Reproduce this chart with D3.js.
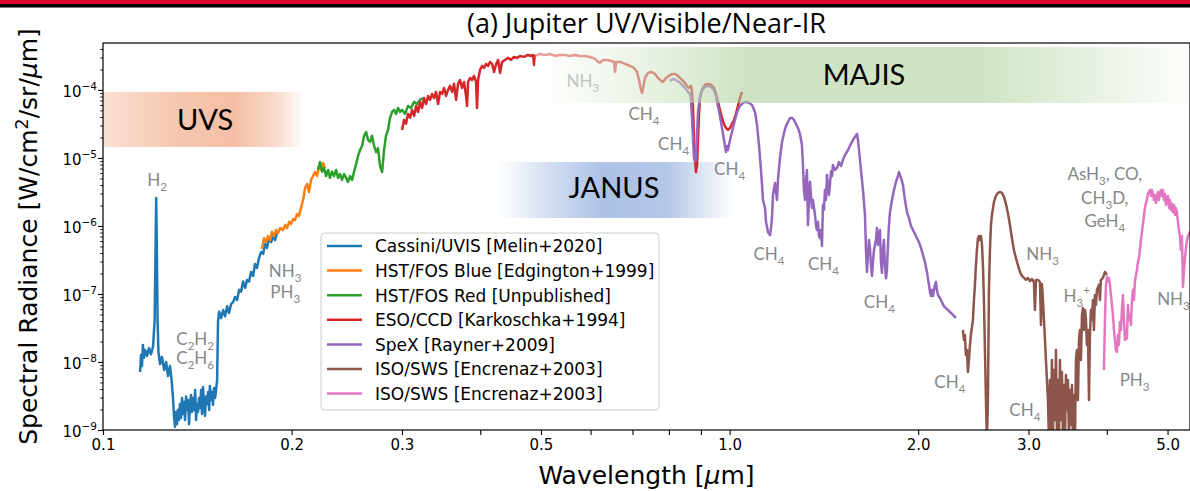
<!DOCTYPE html>
<html>
<head>
<meta charset="utf-8">
<script src="https://cdn.jsdelivr.net/npm/d3@7"></script>
<style>
  html, body { margin: 0; padding: 0; background: #fff; }
  svg { display: block; }
</style>
</head>
<body>
<svg id="chart" width="1190" height="491"></svg>
<script>
// ---------- Spectral data: wavelength [µm] and radiance [W/cm^2/sr/µm] ----------
const cassiniWave = [0.1146,0.1150,0.1154,0.1158,0.1163,0.1167,0.1176,0.1184,0.1193,0.1202,0.1209,0.1213,0.1216,0.1219,0.1222,0.1226,0.1233,0.1242,0.1252,0.1261,0.1270,0.1279,0.1286,0.1294,0.1298,0.1303,0.1308,0.1313,0.1317,0.1322,0.1327,0.1332,0.1337,0.1342,0.1347,0.1352,0.1357,0.1362,0.1367,0.1372,0.1377,0.1382,0.1387,0.1392,0.1397,0.1403,0.1408,0.1413,0.1418,0.1423,0.1428,0.1434,0.1439,0.1444,0.1449,0.1455,0.1460,0.1466,0.1471,0.1477,0.1481,0.1488,0.1493,0.1498,0.1504,0.1510,0.1515,0.1521,0.1526,0.1532,0.1543,0.1555,0.1566,0.1578,0.1589,0.1601,0.1613,0.1625,0.1637,0.1649,0.1661,0.1673,0.1686,0.1698,0.1710,0.1723,0.1736,0.1748,0.1761,0.1774,0.1788,0.1801,0.1814,0.1827,0.1841,0.1855,0.1868,0.1882,0.1896];
const cassiniRad = [7.13e-9,1.27e-8,8.7e-9,1.78e-8,1.15e-8,1.5e-8,1.23e-8,1.6e-8,1.3e-8,1.7e-8,4.15e-8,4.44e-7,2.58e-6,4.44e-7,4.15e-8,1.4e-8,9.3e-9,1.19e-8,7.62e-9,1.0e-8,6.2e-9,8.7e-9,5.8e-9,2.76e-9,1.61e-9,1.11e-9,1.84e-9,1.22e-9,1.97e-9,1.4e-9,2.41e-9,1.5e-9,2.96e-9,1.72e-9,2.58e-9,1.4e-9,3.1e-9,1.97e-9,2.76e-9,1.22e-9,2.41e-9,3.27e-9,1.84e-9,2.96e-9,1.97e-9,3.87e-9,1.4e-9,2.41e-9,1.84e-9,2.96e-9,2.1e-9,3.87e-9,1.72e-9,4.29e-9,2.58e-9,1.61e-9,3.1e-9,2.41e-9,3.62e-9,1.97e-9,4.45e-9,2.76e-9,3.62e-9,2.33e-9,4.15e-9,2.96e-9,3.87e-9,5.43e-9,3.9e-8,5.5e-8,4.4e-8,5.82e-8,4.7e-8,6.6e-8,5.26e-8,7.1e-8,7.6e-8,9.04e-8,8.16e-8,1.15e-7,1.08e-7,1.53e-7,1.23e-7,1.61e-7,1.53e-7,2.11e-7,1.84e-7,2.76e-7,2.41e-7,3.38e-7,4.15e-7,3.87e-7,5.43e-7,4.75e-7,6.6e-7,5.8e-7,7.1e-7,6.2e-7,7.9e-7];

const fosBlueWave = [0.1794,0.1807,0.1821,0.1834,0.1848,0.1861,0.1875,0.1889,0.1903,0.1917,0.1938,0.1953,0.1967,0.1982,0.1996,0.2011,0.2026,0.2041,0.2055,0.2070,0.2086,0.2101,0.2117,0.2132,0.2148,0.2164,0.2180,0.2196,0.2212,0.2228,0.2245,0.2261];
const fosBlueRad = [4.6e-7,6.6e-7,5.8e-7,7.1e-7,6.2e-7,8.2e-7,7.1e-7,8.73e-7,7.9e-7,9.3e-7,8.73e-7,1.035e-6,9.3e-7,1.15e-6,1.07e-6,1.26e-6,1.22e-6,1.5e-6,1.4e-6,1.84e-6,2.41e-6,3.6e-6,4.15e-6,3.15e-6,4.75e-6,5.43e-6,6.2e-6,5.43e-6,7.62e-6,6.67e-6,8.44e-6,7.1e-6];

const fosRedWave = [0.2204,0.2220,0.2237,0.2253,0.2270,0.2287,0.2303,0.2320,0.2337,0.2355,0.2372,0.2390,0.2407,0.2425,0.2443,0.2461,0.2479,0.2498,0.2516,0.2535,0.2553,0.2572,0.2591,0.2610,0.2630,0.2649,0.2668,0.2688,0.2708,0.2728,0.2748,0.2768,0.2789,0.2809,0.2829,0.2850,0.2872,0.2893,0.2914,0.2935,0.2957,0.2979,0.3001,0.3034,0.3068,0.3102,0.3137,0.3171,0.3206,0.3242];
const fosRedRad = [6.67e-6,8.7e-6,6.3e-6,7.1e-6,5.4e-6,6.67e-6,5.1e-6,6.3e-6,5.4e-6,6.67e-6,5.1e-6,5.8e-6,4.75e-6,5.8e-6,5.1e-6,4.45e-6,5.4e-6,4.75e-6,6.3e-6,8.1e-6,1.07e-5,1.31e-5,1.5e-5,2.11e-5,2.41e-5,1.84e-5,1.72e-5,2.11e-5,1.5e-5,1.22e-5,1.4e-5,7.6e-6,6.2e-6,1.31e-5,2.11e-5,2.58e-5,3.9e-5,4.75e-5,5.08e-5,4.45e-5,5.43e-5,4.75e-5,5.08e-5,4.45e-5,5.82e-5,5.43e-5,6.67e-5,6.2e-5,7.13e-5,7.6e-5];

const esoWave = [0.3001,0.3023,0.3045,0.3068,0.3091,0.3114,0.3137,0.3160,0.3183,0.3206,0.3230,0.3254,0.3278,0.3302,0.3326,0.3351,0.3375,0.3400,0.3426,0.3451,0.3477,0.3502,0.3528,0.3554,0.3580,0.3607,0.3633,0.3660,0.3687,0.3714,0.3741,0.3769,0.3797,0.3811,0.3825,0.3853,0.3882,0.3910,0.3939,0.3953,0.3968,0.3997,0.4026,0.4056,0.4086,0.4116,0.4147,0.4178,0.4209,0.4240,0.4271,0.4302,0.4334,0.4381,0.4430,0.4479,0.4528,0.4579,0.4630,0.4698,0.4768,0.4821,0.4856,0.4874,0.4891,0.4983,0.5075,0.5169,0.5264,0.5363,0.5462,0.5563,0.5667,0.5772,0.5879,0.5988,0.6099,0.6167,0.6212,0.6281,0.6374,0.6468,0.6540,0.6564,0.6588,0.6686,0.6810,0.6936,0.7039,0.7117,0.7170,0.7222,0.7249,0.7276,0.7329,0.7410,0.7492,0.7603,0.7688,0.7773,0.7830,0.7917,0.8005,0.8093,0.8183,0.8273,0.8365,0.8458,0.8552,0.8615,0.8679,0.8711,0.8743,0.8775,0.8807,0.8839,0.8872,0.8905,0.8937,0.8970,0.9036,0.9137,0.9238,0.9340,0.9444,0.9513,0.9583,0.9654,0.9725,0.9797,0.9869,0.9942,1.0015,1.0088,1.0163,1.0237,1.0313,1.0390,1.0466];
const esoRad = [2.58e-5,3.62e-5,3.2e-5,4.45e-5,3.9e-5,5.08e-5,4.15e-5,5.82e-5,4.75e-5,6.67e-5,5.43e-5,7.6e-5,6.2e-5,8.16e-5,7.13e-5,8.73e-5,7.6e-5,9.35e-5,6.2e-5,9.35e-5,8.73e-5,1.07e-4,8.16e-5,1.0e-4,1.15e-4,9.35e-5,1.23e-4,7.13e-5,1.23e-4,1.4e-4,1.07e-4,1.31e-4,8.16e-5,5.82e-5,1.31e-4,1.5e-4,1.4e-4,1.61e-4,1.31e-4,5.43e-5,1.4e-4,1.97e-4,2.25e-4,2.11e-4,2.41e-4,2.25e-4,2.58e-4,2.41e-4,1.84e-4,2.41e-4,2.76e-4,1.78e-4,2.58e-4,2.76e-4,2.96e-4,2.76e-4,3.06e-4,2.96e-4,3.16e-4,3.06e-4,3.27e-4,3.16e-4,3.27e-4,2.33e-4,3.16e-4,3.38e-4,3.27e-4,3.38e-4,3.16e-4,3.27e-4,3.27e-4,3.16e-4,3.27e-4,3.16e-4,3.16e-4,3.06e-4,2.86e-4,2.58e-4,2.49e-4,2.76e-4,2.76e-4,2.67e-4,2.58e-4,1.84e-4,2.58e-4,2.58e-4,2.41e-4,2.25e-4,2.11e-4,1.84e-4,1.4e-4,1.0e-4,9.04e-5,1.07e-4,1.5e-4,1.78e-4,1.84e-4,1.72e-4,1.5e-4,1.36e-4,1.31e-4,1.5e-4,1.61e-4,1.72e-4,1.72e-4,1.61e-4,1.45e-4,1.31e-4,1.15e-4,1.07e-4,1.15e-4,9.35e-5,5.43e-5,1.84e-5,9.35e-6,6.2e-6,7.9e-6,1.84e-5,4.29e-5,7.6e-5,1.0e-4,1.19e-4,1.23e-4,1.19e-4,1.07e-4,8.73e-5,6.67e-5,5.08e-5,3.87e-5,3.16e-5,2.76e-5,2.58e-5,2.76e-5,3.16e-5,3.62e-5,4.45e-5,5.82e-5,7.6e-5,9.35e-5];

const spexWave = [0.8034,0.8123,0.8213,0.8304,0.8396,0.8489,0.8584,0.8647,0.8679,0.8711,0.8743,0.8775,0.8807,0.8839,0.8872,0.8905,0.8970,0.9036,0.9137,0.9238,0.9340,0.9444,0.9513,0.9583,0.9654,0.9725,0.9797,0.9869,0.9906,0.9942,1.0015,1.0088,1.0163,1.0237,1.0313,1.0390,1.0505,1.0622,1.0739,1.0858,1.0978,1.1060,1.1141,1.1223,1.1265,1.1306,1.1390,1.1432,1.1516,1.1601,1.1643,1.1686,1.1729,1.1816,1.1859,1.1903,1.1946,1.2035,1.2124,1.2213,1.2303,1.2393,1.2485,1.2577,1.2669,1.2762,1.2856,1.2952,1.3046,1.3095,1.3143,1.3192,1.3241,1.3289,1.3338,1.3387,1.3436,1.3486,1.3535,1.3585,1.3686,1.3736,1.3786,1.3837,1.3888,1.3939,1.3990,1.4042,1.4093,1.4145,1.4197,1.4250,1.4302,1.4355,1.4407,1.4460,1.4514,1.4568,1.4621,1.4730,1.4838,1.4947,1.5058,1.5168,1.5280,1.5393,1.5507,1.5621,1.5736,1.5853,1.5970,1.6029,1.6088,1.6206,1.6326,1.6447,1.6508,1.6568,1.6629,1.6691,1.6752,1.6813,1.6875,1.6937,1.6999,1.7125,1.7188,1.7251,1.7378,1.7442,1.7506,1.7571,1.7635,1.7700,1.7765,1.7831,1.7897,1.7963,1.8029,1.8162,1.8295,1.8430,1.8566,1.8635,1.8703,1.8772,1.8911,1.9050,1.9191,1.9333,1.9475,1.9618,1.9763,1.9909,2.0056,2.0204,2.0352,2.0502,2.0653,2.0806,2.0882,2.0960,2.1036,2.1113,2.1269,2.1347,2.1426,2.1505,2.1663,2.1823,2.1984,2.2147,2.2310,2.2474,2.2640,2.2807,2.2975];
const spexRad = [1.36e-4,1.45e-4,1.4e-4,1.31e-4,1.19e-4,1.07e-4,9.35e-5,8.73e-5,7.13e-5,3.87e-5,1.84e-5,1.0e-5,8.7e-6,1.0e-5,2.18e-5,4.75e-5,8.16e-5,1.0e-4,1.11e-4,1.15e-4,1.11e-4,1.0e-4,8.16e-5,5.82e-5,4.15e-5,2.76e-5,1.84e-5,1.22e-5,1.5e-5,1.31e-5,1.84e-5,2.41e-5,3.16e-5,4.15e-5,5.08e-5,5.82e-5,6.44e-5,6.67e-5,6.44e-5,6.02e-5,4.75e-5,3.06e-5,1.55e-5,6.67e-6,4.01e-6,2.41e-6,1.84e-6,1.15e-6,8.16e-7,7.37e-7,9.3e-7,1.31e-6,2.86e-6,4.29e-6,3.2e-6,2.41e-6,4.75e-6,1.0e-5,1.7e-5,2.33e-5,2.96e-5,3.38e-5,3.87e-5,3.87e-5,3.62e-5,3.16e-5,2.76e-5,2.25e-5,1.55e-5,7.9e-6,3.38e-6,2.41e-6,4.75e-6,6.67e-6,1.035e-6,2.41e-6,4.45e-6,2.86e-6,1.84e-6,2.41e-6,1.45e-6,1.035e-6,8.73e-7,1.15e-6,7.1e-7,6.6e-7,8.73e-7,5.08e-7,2.04e-6,1.72e-6,3.38e-6,2.41e-6,5.62e-6,4.01e-6,2.86e-6,4.01e-6,6.3e-6,5.4e-6,7.9e-6,6.67e-6,7.1e-6,8.7e-6,7.6e-6,9.35e-6,1.11e-5,1.22e-5,1.4e-5,1.61e-5,1.84e-5,2.04e-5,2.25e-5,1.84e-5,1.31e-5,6.67e-6,3.38e-6,1.45e-6,4.44e-7,2.11e-7,3.75e-7,6.2e-7,4.75e-7,2.67e-7,1.84e-7,2.96e-7,4.44e-7,6.2e-7,9.3e-7,5.26e-7,8.73e-7,2.96e-7,2.04e-7,4.44e-7,6.2e-7,2.67e-7,1.7e-7,2.25e-7,5.26e-7,1.035e-6,1.6e-6,2.41e-6,3.38e-6,4.45e-6,5.4e-6,6.2e-6,5.62e-6,5.1e-6,4.01e-6,2.41e-6,1.6e-6,1.3e-6,1.0e-6,8.73e-7,7.6e-7,6.6e-7,5.8e-7,4.75e-7,3.75e-7,2.96e-7,2.11e-7,1.36e-7,1.08e-7,9.35e-8,1.15e-7,9.35e-8,1.36e-7,1.5e-7,1.15e-7,9.66e-8,8.7e-8,7.6e-8,6.6e-8,6.2e-8,5.82e-8,5.43e-8,5.08e-8,4.75e-8,4.45e-8];

const isoLongWave = [2.3573,2.366,2.3747,2.383,2.3922,2.4010,2.410,2.4188,2.427,2.4456,2.4546,2.4636,2.4727,2.4818,2.4909,2.5001,2.5093,2.5185,2.5278,2.5371,2.5464,2.5558,2.5652,2.5746,2.5841,2.5936,2.6032,2.613,2.6224,2.642,2.661,2.6809,2.7007,2.7206,2.741,2.761,2.781,2.8018,2.8224,2.843,2.864,2.885,2.9066,2.9281,2.950,2.971,2.993,3.0155,3.038,3.060,3.0714,3.083,3.106,3.1284,3.1399,3.1515,3.1631,3.175,3.1864,3.198,3.2100,3.2218,3.234,3.2456,3.257,3.269,3.2815,3.293,3.3057,3.318,3.3301,3.342,3.355,3.3670,3.380,3.3918,3.404,3.417,3.4294,3.442,3.4547,3.467,3.480,3.4930,3.506,3.519,3.5317,3.545,3.5578,3.571,3.5840,3.597,3.611,3.6238,3.637,3.651,3.6639,3.677,3.6910,3.705,3.7182,3.732,3.746,3.7594,3.773,3.787,3.8010,3.815,3.8291,3.843,3.8573,3.886,3.9001,3.914,3.9433,3.9724,4.0017];
const isoLongRad = [2.96e-8,2.11e-8,2.49e-8,1.27e-8,1.5e-8,7.13e-9,1.07e-8,1.78e-8,2.49e-8,4.15e-8,8.16e-8,1.36e-7,2.67e-7,4.44e-7,6.6e-7,7.1e-7,6.2e-7,7.1e-7,5.4e-7,2.67e-7,8.16e-8,1.5e-8,2.76e-9,7e-10,2.76e-9,1.15e-7,4.44e-7,1.035e-6,1.45e-6,2.25e-6,2.76e-6,3.06e-6,3.16e-6,3.06e-6,2.67e-6,2.11e-6,1.55e-6,1.035e-6,6.6e-7,4.44e-7,3.38e-7,2.67e-7,2.11e-7,1.84e-7,1.72e-7,1.61e-7,1.72e-7,1.55e-7,1.66e-7,1.5e-7,5.82e-8,1.61e-7,1.61e-7,1.5e-7,3.5e-8,1.4e-7,8.16e-8,4.15e-8,2.2e-8,1.07e-8,5.43e-9,2.76e-9,7e-10,5.43e-9,7e-10,1.07e-8,7e-10,7.6e-9,1.4e-9,1.5e-8,7e-10,5.43e-9,7e-10,1.07e-8,1.4e-9,7.13e-9,7e-10,4.59e-9,7e-10,6.44e-9,1.97e-9,5.43e-9,7e-10,3.87e-9,1.19e-9,4.59e-9,7e-10,3.27e-9,7e-10,1.07e-8,1.5e-8,2.76e-9,2.11e-8,2.96e-8,1.07e-8,4.91e-8,6.2e-8,2.96e-8,5.82e-8,4.15e-8,1.78e-8,2.96e-8,2.76e-9,2.49e-8,5.82e-8,4.15e-8,8.16e-8,2.96e-8,9.66e-8,6.89e-8,1.15e-7,1.36e-7,8.16e-8,1.61e-7,1.72e-7,2.11e-7,1.9e-7];

const isoShortWave = [3.958,3.9724,3.987,4.0017,4.016,4.031,4.0460,4.061,4.076,4.0909,4.106,4.1211,4.136,4.1515,4.1668,4.182,4.1975,4.213,4.228,4.2441,4.260,4.2754,4.291,4.3069,4.3228,4.339,4.3547,4.371,4.3868,4.4030,4.419,4.4355,4.452,4.4682,4.485,4.501,4.5177,4.534,4.551,4.5677,4.585,4.6014,4.618,4.6353,4.652,4.670,4.6867,4.704,4.721,4.7386,4.756,4.7736,4.791,4.8088,4.827,4.844,4.8621,4.880,4.898,4.9159,4.934,4.9522,4.970,4.9887,5.007,5.026,5.0440,5.062,5.081,5.0999,5.119,5.1375,5.156,5.1754,5.195,5.214,5.2327,5.252,5.2723,5.2917,5.311,5.3308,5.350,5.370,5.3898,5.4296,5.49];
const isoShortRad = [7.62e-9,4.15e-8,1.36e-7,1.78e-7,1.53e-7,1.72e-7,1.36e-7,9.66e-8,6.89e-8,4.91e-8,2.96e-8,2.11e-8,1.5e-8,1.4e-8,2.49e-8,1.78e-8,3.87e-8,2.96e-8,5.82e-8,9.66e-8,4.15e-8,2.11e-8,2.96e-8,2.2e-8,6.89e-8,4.15e-8,4.91e-8,3.5e-8,8.16e-8,1.15e-7,8.16e-8,1.53e-7,1.9e-7,2.25e-7,2.96e-7,3.38e-7,4.44e-7,6.2e-7,8.2e-7,1.07e-6,1.4e-6,1.84e-6,2.18e-6,2.41e-6,2.96e-6,3.16e-6,3.38e-6,2.76e-6,3.38e-6,2.96e-6,2.41e-6,2.86e-6,2.18e-6,2.76e-6,3.16e-6,2.41e-6,2.96e-6,3.38e-6,2.76e-6,3.38e-6,2.41e-6,2.96e-6,2.04e-6,2.58e-6,2.76e-6,1.84e-6,2.41e-6,1.72e-6,2.11e-6,1.6e-6,2.04e-6,1.45e-6,1.84e-6,1.6e-6,1.15e-6,8.73e-7,7.1e-7,4.44e-7,7.1e-7,1.27e-7,2.25e-7,3.38e-7,4.75e-7,6.2e-7,7.1e-7,8.2e-7,9.3e-7];

const seriesNames = ["Cassini/UVIS [Melin+2020]", "HST/FOS Blue [Edgington+1999]", "HST/FOS Red [Unpublished]", "ESO/CCD [Karkoschka+1994]", "SpeX [Rayner+2009]", "ISO/SWS [Encrenaz+2003]", "ISO/SWS [Encrenaz+2003]"];
const seriesColors = ["#1f77b4", "#ff7f0e", "#2ca02c", "#d62728", "#9467bd", "#8c564b", "#e377c2"];

// ---------- Axis ticks ----------
const xTickValues = [0.1, 0.2, 0.3, 0.4, 0.5, 0.6, 0.7, 0.8, 0.9, 1, 2, 3, 4, 5];
const xTickLabels = ["0.1", "0.2", "0.3", "", "0.5", "", "", "", "", "1.0", "2.0", "3.0", "", "5.0"];
const yMajorTicks = [1e-9, 1e-8, 1e-7, 1e-6, 1e-5, 1e-4];
const yTickExponents = ["−9", "−8", "−7", "−6", "−5", "−4"];

// ---------- Instrument coverage bands ----------
const bandNames = ["UVS", "JANUS", "MAJIS"];
const bandWave = [[0.1, 0.21], [0.427, 1.013], [0.49, 5.43]];
const bandRad = [[1.45e-5, 9.35e-5], [1.31e-6, 8.7e-6], [6.44e-5, 4.28e-4]];
const bandLabelWave = [0.1455, 0.654, 1.639];
const bandLabelRad = [2.6e-5, 2.55e-6, 1.2e-4];

// ---------- Absorption/emission annotations (centre wavelength, baseline radiance) ----------
const labelText = ["H_2", "C_2H_2", "C_2H_6", "NH_3", "PH_3", "NH_3", "CH_4", "CH_4", "CH_4", "CH_4", "CH_4", "CH_4", "CH_4", "CH_4", "NH_3", "H_3^+", "AsH_3, CO,", "CH_3D,", "GeH_4", "PH_3", "NH_3"];
const labelWave = [0.122, 0.1403, 0.1403, 0.1953, 0.1953, 0.583, 0.730, 0.814, 1.0, 1.156, 1.412, 1.734, 2.247, 2.96, 3.16, 3.58, 3.97, 3.97, 3.97, 4.43, 5.11];
const labelRad = [3.87e-6, 1.78e-8, 9.35e-9, 1.78e-7, 8.73e-8, 1.11e-4, 3.62e-5, 1.31e-5, 5.62e-6, 3.16e-7, 2.25e-7, 6.2e-8, 4.15e-9, 1.61e-9, 3.16e-7, 7.7e-8, 4.75e-6, 2.11e-6, 9.66e-7, 4.4e-9, 6.9e-8];

// ---------- Layout ----------
const svg = d3.select("#chart");
const plot = { left: 103, right: 1190, top: 43, bottom: 430 };
const x = d3.scaleLog().domain([0.1, 5.43]).range([plot.left, plot.right]);
const y = d3.scaleLog().domain([1e-9, 4.9e-4]).range([plot.bottom, plot.top]);
const tickFont = "'DejaVu Sans', sans-serif";

// top banner stripes
svg.append("rect").attr("x", 0).attr("y", 0).attr("width", 1190).attr("height", 4).attr("fill", "#e0072d");
svg.append("rect").attr("x", 0).attr("y", 4).attr("width", 1190).attr("height", 3.5).attr("fill", "#000");

const defs = svg.append("defs");
defs.append("clipPath").attr("id", "plot-clip")
  .append("rect")
  .attr("x", plot.left).attr("y", plot.top)
  .attr("width", plot.right - plot.left).attr("height", plot.bottom - plot.top);

// Band shading: each band is a translucent veil whose colour runs white -> tint -> white.
// [offset, mix of tint (0 = white, 1 = full tint)]
const bandTint = [[238, 150, 105], [120, 155, 215], [168, 206, 148]];
const bandOpacity = [0.66, 0.62, 0.55];
const bandOnTop = [false, false, true];
const bandStops = [
  [[0, 0.45], [0.35, 0.8], [0.65, 0.92], [0.85, 0.55], [1, 0]],
  [[0, 0], [0.2, 0.5], [0.45, 1], [0.72, 0.9], [1, 0]],
  [[0, 0], [0.1, 0.25], [0.24, 0.7], [0.32, 1], [0.68, 1], [0.85, 0.5], [1, 0.05]]
];
bandNames.forEach((name, i) => {
  const g = defs.append("linearGradient").attr("id", "band-grad-" + i)
    .attr("x1", "0%").attr("x2", "100%").attr("y1", "0%").attr("y2", "0%");
  bandStops[i].forEach(s => {
    const c = bandTint[i].map(v => Math.round(255 - (255 - v) * s[1]));
    g.append("stop").attr("offset", (s[0] * 100) + "%")
      .attr("stop-color", `rgb(${c[0]},${c[1]},${c[2]})`);
  });
});

function drawBands(group, onTop) {
  bandNames.forEach((name, i) => {
    if (bandOnTop[i] !== onTop) return;
    const x0 = x(bandWave[i][0]), x1 = x(bandWave[i][1]);
    const y0 = y(bandRad[i][1]), y1 = y(bandRad[i][0]);
    group.append("rect")
      .attr("x", x0).attr("y", y0).attr("width", x1 - x0).attr("height", y1 - y0)
      .attr("fill", "url(#band-grad-" + i + ")")
      .attr("fill-opacity", bandOpacity[i]);
  });
}

// UVS and JANUS sit behind the spectra
drawBands(svg.append("g").attr("clip-path", "url(#plot-clip)"), false);

// ---------- Spectra ----------
const waves = [cassiniWave, fosBlueWave, fosRedWave, esoWave, spexWave, isoLongWave, isoShortWave];
const rads = [cassiniRad, fosBlueRad, fosRedRad, esoRad, spexRad, isoLongRad, isoShortRad];
const line = d3.line().x(d => x(d[0])).y(d => y(d[1]));

const linesG = svg.append("g").attr("clip-path", "url(#plot-clip)");
waves.forEach((w, i) => {
  const pts = w.map((v, j) => [v, rads[i][j]]);
  linesG.append("path").datum(pts)
    .attr("d", line)
    .attr("fill", "none")
    .attr("stroke", seriesColors[i])
    .attr("stroke-width", 2.5)
    .attr("stroke-linejoin", "round");
});

// ---------- Molecule annotations ----------
function richText(sel, str, size) {
  // "_c" gives a subscript character, "^c" a superscript character
  let i = 0;
  let shift = 0;
  while (i < str.length) {
    const ch = str[i];
    if ((ch === "_" || ch === "^") && i + 1 < str.length) {
      const target = ch === "_" ? size * 0.3 : -size * 0.45;
      sel.append("tspan").attr("dy", target - shift).attr("font-size", size * 0.68).text(str[i + 1]);
      shift = target;
      i += 2;
    } else {
      let j = i;
      while (j < str.length && str[j] !== "_" && str[j] !== "^") j++;
      sel.append("tspan").attr("dy", -shift).attr("font-size", size).text(str.slice(i, j));
      shift = 0;
      i = j;
    }
  }
}

const labelG = svg.append("g");
labelText.forEach((t, i) => {
  const txt = labelG.append("text")
    .attr("x", x(labelWave[i])).attr("y", y(labelRad[i]))
    .attr("text-anchor", "middle")
    .attr("font-family", "Lato, 'Open Sans', sans-serif")
    .attr("font-size", 17)
    .attr("fill", "#878787");
  richText(txt, t, 17);
});

// MAJIS veil lies over the spectra and their labels
drawBands(svg.append("g").attr("clip-path", "url(#plot-clip)"), true);

bandNames.forEach((name, i) => {
  svg.append("text")
    .attr("x", x(bandLabelWave[i])).attr("y", y(bandLabelRad[i]))
    .attr("text-anchor", "middle")
    .attr("font-family", "Lato, 'Open Sans', sans-serif")
    .attr("font-size", 29)
    .attr("fill", "#000")
    .text(name);
});

// ---------- Axes ----------
const xAxis = d3.axisBottom(x).tickValues(xTickValues)
  .tickFormat((d, i) => xTickLabels[i]).tickSize(5).tickSizeOuter(0).tickPadding(4);
const xg = svg.append("g").attr("transform", `translate(0,${plot.bottom})`).call(xAxis);
xg.select(".domain").remove();
xg.selectAll("text").attr("font-family", tickFont).attr("font-size", 15).attr("fill", "#000");
xg.selectAll("line").attr("stroke", "#000").attr("stroke-width", 1.1);

const yMinor = [];
for (let e = -9; e <= -4; e++) {
  for (let k = 2; k <= 9; k++) {
    const v = k * Math.pow(10, e);
    if (v < y.domain()[1]) yMinor.push(v);
  }
}
const yMinorAxis = d3.axisLeft(y).tickValues(yMinor).tickFormat("").tickSize(2.8).tickSizeOuter(0);
const ygm = svg.append("g").attr("transform", `translate(${plot.left},0)`).call(yMinorAxis);
ygm.select(".domain").remove();
ygm.selectAll("line").attr("stroke", "#000").attr("stroke-width", 0.9);

const yAxis = d3.axisLeft(y).tickValues(yMajorTicks).tickFormat("").tickSize(5).tickSizeOuter(0);
const yg = svg.append("g").attr("transform", `translate(${plot.left},0)`).call(yAxis);
yg.select(".domain").remove();
yg.selectAll("line").attr("stroke", "#000").attr("stroke-width", 1.1);
yMajorTicks.forEach((v, i) => {
  const t = svg.append("text")
    .attr("x", plot.left - 6).attr("y", y(v) + 7)
    .attr("text-anchor", "end")
    .attr("font-family", tickFont).attr("fill", "#000");
  t.append("tspan").attr("font-size", 15).text("10");
  t.append("tspan").attr("font-size", 10.5).attr("dy", -7).text(yTickExponents[i]);
});

// axes frame
svg.append("rect")
  .attr("x", plot.left).attr("y", plot.top)
  .attr("width", plot.right - plot.left).attr("height", plot.bottom - plot.top)
  .attr("fill", "none").attr("stroke", "#000").attr("stroke-width", 1.2);

// axis titles
const xl = svg.append("text")
  .attr("x", (plot.left + plot.right) / 2).attr("y", 484)
  .attr("text-anchor", "middle")
  .attr("font-family", tickFont).attr("font-size", 25).attr("fill", "#000");
xl.append("tspan").text("Wavelength [");
xl.append("tspan").attr("font-style", "italic").text("μ");
xl.append("tspan").text("m]");

const yl = svg.append("text")
  .attr("transform", `translate(37,${(plot.top + plot.bottom) / 2}) rotate(-90)`)
  .attr("text-anchor", "middle")
  .attr("font-family", tickFont).attr("font-size", 25).attr("fill", "#000");
yl.append("tspan").text("Spectral Radiance [W/cm");
yl.append("tspan").attr("font-size", 17.5).attr("dy", -9).text("2");
yl.append("tspan").attr("dy", 9).text("/sr/");
yl.append("tspan").attr("font-style", "italic").text("μ");
yl.append("tspan").text("m]");

// chart title
svg.append("text")
  .attr("x", (plot.left + plot.right) / 2).attr("y", 33)
  .attr("text-anchor", "middle")
  .attr("font-family", "'Open Sans', 'Noto Sans', sans-serif")
  .attr("font-size", 27).attr("fill", "#000")
  .text("(a) Jupiter UV/Visible/Near-IR");

// ---------- Legend ----------
const legend = svg.append("g").attr("transform", "translate(321,233)");
legend.append("rect")
  .attr("width", 338).attr("height", 177).attr("rx", 4)
  .attr("fill", "#fff").attr("fill-opacity", 0.85)
  .attr("stroke", "#cccccc").attr("stroke-width", 1);
seriesNames.forEach((name, i) => {
  const cy = 13 + i * 24.6;
  legend.append("line")
    .attr("x1", 6).attr("x2", 41).attr("y1", cy).attr("y2", cy)
    .attr("stroke", seriesColors[i]).attr("stroke-width", 2.5);
  legend.append("text")
    .attr("x", 54).attr("y", cy + 6.3)
    .attr("font-family", tickFont).attr("font-size", 17).attr("fill", "#000")
    .text(name);
});
</script>
</body>
</html>
